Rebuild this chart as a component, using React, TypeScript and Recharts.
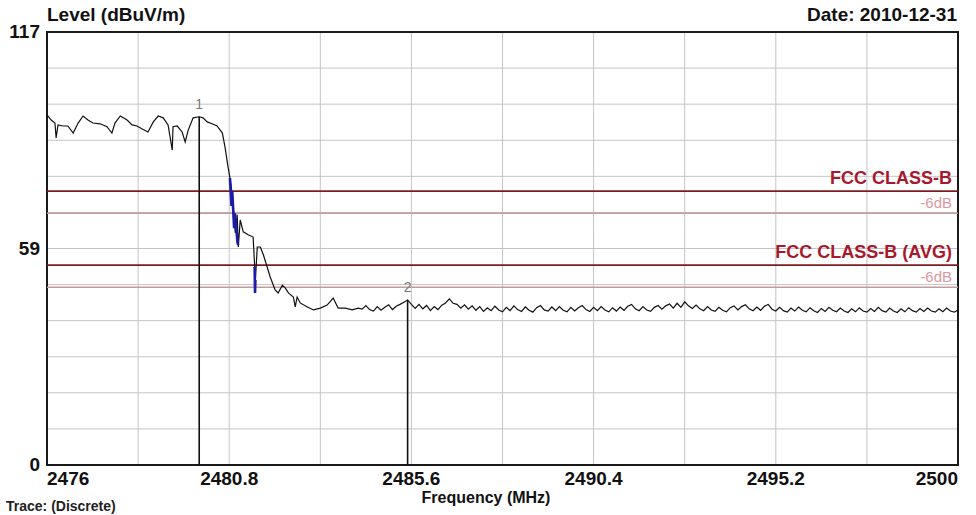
import React from 'react';
import {
  LineChart,
  Line,
  XAxis,
  YAxis,
  CartesianGrid,
  ReferenceLine,
  ReferenceArea,
  ReferenceDot,
} from 'recharts';

// Sweep trace across the band edge: [frequency MHz, level dBuV/m]
const edgeTrace: [number, number][] = [
  [2476.0, 94.6], [2476.11, 93.2], [2476.21, 92.4], [2476.24, 88.4], [2476.29, 91.9],
  [2476.42, 91.6], [2476.55, 91.6], [2476.69, 89.7], [2476.82, 92.4], [2476.95, 94.3],
  [2477.08, 93.2], [2477.21, 92.4], [2477.4, 92.2], [2477.58, 91.4], [2477.71, 89.7],
  [2477.79, 92.4], [2477.93, 94.3], [2478.11, 93.2], [2478.24, 91.9], [2478.37, 91.6],
  [2478.51, 90.8], [2478.66, 90.0], [2478.8, 92.7], [2478.93, 94.3], [2479.06, 93.8],
  [2479.19, 91.9], [2479.3, 85.1], [2479.32, 91.4], [2479.43, 91.6], [2479.56, 90.0],
  [2479.64, 87.3], [2479.72, 90.5], [2479.85, 93.8], [2480.01, 94.1], [2480.11, 93.8],
  [2480.22, 92.7], [2480.35, 92.2], [2480.48, 91.6], [2480.62, 89.7], [2480.69, 85.9],
  [2480.77, 80.5], [2480.83, 77.0], [2480.88, 73.0], [2480.96, 62.7], [2481.01, 67.6],
  [2481.04, 58.9], [2481.09, 66.2], [2481.17, 63.0], [2481.3, 62.2], [2481.43, 61.6],
  [2481.49, 50.0], [2481.54, 58.9], [2481.62, 58.9], [2481.7, 56.8], [2481.8, 53.5],
  [2481.88, 50.8], [2482.01, 47.3], [2482.09, 46.5], [2482.2, 48.6], [2482.28, 47.8],
  [2482.36, 46.5], [2482.49, 45.4], [2482.54, 42.7], [2482.59, 45.4], [2482.67, 43.8],
  [2482.86, 42.7], [2483.02, 41.9], [2483.2, 42.4], [2483.38, 43.2], [2483.54, 45.1],
  [2483.67, 42.4], [2483.86, 42.4], [2484.04, 41.9], [2484.2, 42.4],
];

// Noise floor readings, one every 0.1 MHz from 2484.3 MHz to 2500 MHz
const floorStartMHz = 2484.3;
const floorStepMHz = 0.1;
const floorLevels = [
  42.1, 43.1, 42.0, 41.6, 42.8, 41.8, 42.6, 43.3, 42.0, 42.9,
  43.4, 44.0, 44.6, 43.4, 42.3, 43.4, 42.2, 43.1, 41.7, 42.8,
  42.0, 43.2, 43.8, 44.9, 43.7, 43.4, 42.4, 43.3, 42.1, 43.0,
  41.8, 42.8, 41.5, 42.5, 41.7, 42.9, 41.9, 41.4, 42.6, 41.7,
  43.0, 42.0, 41.5, 42.7, 41.8, 41.3, 42.5, 43.1, 41.9, 41.6,
  42.7, 41.7, 42.8, 41.8, 41.4, 42.6, 41.6, 42.5, 43.1, 42.0,
  41.5, 42.6, 41.7, 42.8, 41.9, 41.4, 42.5, 41.6, 42.7, 41.8,
  42.9, 43.4, 42.2, 41.7, 42.8, 41.9, 41.5, 42.6, 43.1, 42.1,
  43.0, 43.5, 42.4, 43.7, 42.6, 44.1, 43.0, 42.3, 43.2, 42.2,
  41.7, 42.8, 41.9, 41.5, 42.6, 41.8, 41.4, 42.5, 43.0, 41.9,
  42.8, 43.3, 42.2, 41.7, 42.7, 41.8, 42.9, 43.4, 42.1, 41.6,
  42.6, 41.7, 41.3, 42.4, 41.6, 42.7, 41.8, 41.4, 42.5, 41.7,
  41.2, 42.3, 41.5, 42.6, 41.8, 41.4, 42.4, 41.6, 41.2, 42.2,
  41.4, 42.5, 41.6, 41.3, 42.3, 41.5, 42.6, 41.7, 41.3, 42.4,
  41.6, 41.2, 42.2, 41.4, 42.5, 41.7, 41.3, 42.3, 41.5, 42.4,
  41.6, 41.3, 42.2, 41.4, 42.4, 41.6, 41.3, 41.9,
];

// Overdrawn fast-sweep segments on the falling edge (null breaks the line)
const fastSweep: [number, number | null][] = [
  [2480.82, 77.5], [2480.86, 70.0], [2480.88, 74.0], [2480.93, 64.0],
  [2480.95, 68.0], [2481.02, 60.0], [2481.04, 59.5],
  [2481.2, null],
  [2481.47, 53.5], [2481.48, 46.5], [2481.49, 50.0],
];

// Markers: [label, frequency MHz, level dBuV/m]
const markers: [string, number, number][] = [
  ['1', 2480.01, 94.1],
  ['2', 2485.5, 44.6],
];

// Limit lines
const limitNames = ['FCC CLASS-B', 'FCC CLASS-B (AVG)'];
const limitLevels = [74, 54];
const marginDb = 6;
const marginLabel = '-6dB';

// Axis ticks and labels
const freqTicks = [2476, 2478.4, 2480.8, 2483.2, 2485.6, 2488, 2490.4, 2492.8, 2495.2, 2497.6, 2500];
const freqLabelValues = [2476, 2480.8, 2485.6, 2490.4, 2495.2, 2500];
const freqLabels = ['2476', '2480.8', '2485.6', '2490.4', '2495.2', '2500'];
const levelTicks = [0, 9.75, 19.5, 29.25, 39, 48.75, 58.5, 68.25, 78, 87.75, 97.5, 107.25, 117];
const levelLabelValues = [0, 58.5, 117];
const levelLabels = ['0', '59', '117'];

const traceData = [
  ...edgeTrace.map(([f, v]) => ({ f, v })),
  ...floorLevels.map((v, i) => ({ f: Math.round((floorStartMHz + i * floorStepMHz) * 100) / 100, v })),
];
const fastData = fastSweep.map(([f, v]) => ({ f, v }));

const FONT = '"Liberation Sans", Arial, sans-serif';
const LIMIT_COLOR = '#7d1d22';
const LIMIT_TEXT = '#a8182c';
const MARGIN_COLOR = '#c49a9c';
const MARGIN_TEXT = '#dc98a0';

const FreqTick = (props: any) => {
  const { x, y, payload } = props;
  const idx = freqLabelValues.findIndex((v) => Math.abs(v - payload.value) < 1e-6);
  if (idx < 0) return null;
  const anchor = idx === 0 ? 'start' : idx === freqLabelValues.length - 1 ? 'end' : 'middle';
  return (
    <text x={x} y={y + 20} textAnchor={anchor} fontFamily={FONT} fontWeight="bold" fontSize={19} fill="#111">
      {freqLabels[idx]}
    </text>
  );
};

const LevelTick = (props: any) => {
  const { x, y, payload } = props;
  const idx = levelLabelValues.findIndex((v) => Math.abs(v - payload.value) < 1e-6);
  if (idx < 0) return null;
  return (
    <text x={x - 7} y={y + 6} textAnchor="end" fontFamily={FONT} fontWeight="bold" fontSize={19} fill="#111">
      {levelLabels[idx]}
    </text>
  );
};

const limitLabel = (text: string) => (props: any) => {
  const vb = props.viewBox;
  return (
    <text x={vb.x + vb.width - 6} y={vb.y - 7} textAnchor="end" fontFamily={FONT} fontWeight="bold" fontSize={18} fill={LIMIT_TEXT}>
      {text}
    </text>
  );
};

const marginLabelContent = (props: any) => {
  const vb = props.viewBox;
  return (
    <text x={vb.x + vb.width - 6} y={vb.y - 5} textAnchor="end" fontFamily={FONT} fontSize={15} fill={MARGIN_TEXT}>
      {marginLabel}
    </text>
  );
};

export default function App() {
  return (
    <div style={{ position: 'absolute', left: 0, top: 0, width: 976, height: 515, background: '#fff' }}>
      <LineChart
        width={976}
        height={515}
        data={traceData}
        margin={{ top: 32, right: 18, bottom: 10, left: 7 }}
      >
        <CartesianGrid stroke="#c4c4c4" strokeWidth={1} />
        <XAxis
          dataKey="f"
          type="number"
          domain={[2476, 2500]}
          ticks={freqTicks}
          interval={0}
          height={40}
          tickLine={false}
          axisLine={false}
          tickSize={0}
          tickMargin={0}
          tick={<FreqTick />}
          allowDataOverflow
        />
        <YAxis
          type="number"
          domain={[0, 117]}
          ticks={levelTicks}
          interval={0}
          width={40}
          tickLine={false}
          axisLine={false}
          tickSize={0}
          tickMargin={0}
          tick={<LevelTick />}
          allowDataOverflow
        />
        {limitLevels.map((lv, i) => (
          <ReferenceLine
            key={'m' + i}
            y={lv - marginDb}
            stroke={MARGIN_COLOR}
            strokeWidth={1.5}
            label={marginLabelContent as any}
          />
        ))}
        {limitLevels.map((lv, i) => (
          <ReferenceLine
            key={'l' + i}
            y={lv}
            stroke={LIMIT_COLOR}
            strokeWidth={1.6}
            label={limitLabel(limitNames[i]) as any}
          />
        ))}
        {markers.map(([name, f, lv]) => (
          <ReferenceLine
            key={'k' + name}
            segment={[{ x: f, y: 0 }, { x: f, y: lv }]}
            stroke="#111"
            strokeWidth={1.6}
          />
        ))}
        {markers.map(([name, f, lv]) => (
          <ReferenceDot
            key={'d' + name}
            x={f}
            y={lv}
            r={0}
            stroke="none"
            label={{ value: name, position: 'top', offset: 8, fill: '#777', fontSize: 14, fontFamily: FONT }}
          />
        ))}
        <Line
          dataKey="v"
          stroke="#111"
          strokeWidth={1.2}
          dot={false}
          isAnimationActive={false}
        />
        <Line
          data={fastData}
          dataKey="v"
          stroke="#1c1ca8"
          strokeWidth={2.6}
          dot={false}
          connectNulls={false}
          isAnimationActive={false}
        />
        <ReferenceArea x1={2476} x2={2500} y1={0} y2={117} fill="none" stroke="#1a1a1a" strokeWidth={2} />
        <text x={47} y={21} fontFamily={FONT} fontWeight="bold" fontSize={19} fill="#111">
          Level (dBuV/m)
        </text>
        <text x={957} y={21} textAnchor="end" fontFamily={FONT} fontWeight="bold" fontSize={19} fill="#111">
          Date: 2010-12-31
        </text>
        <text x={486} y={503} textAnchor="middle" fontFamily={FONT} fontWeight="bold" fontSize={16} fill="#111">
          Frequency (MHz)
        </text>
        <text x={6} y={511} fontFamily={FONT} fontWeight="bold" fontSize={14} fill="#222">
          Trace:  (Discrete)
        </text>
      </LineChart>
    </div>
  );
}
